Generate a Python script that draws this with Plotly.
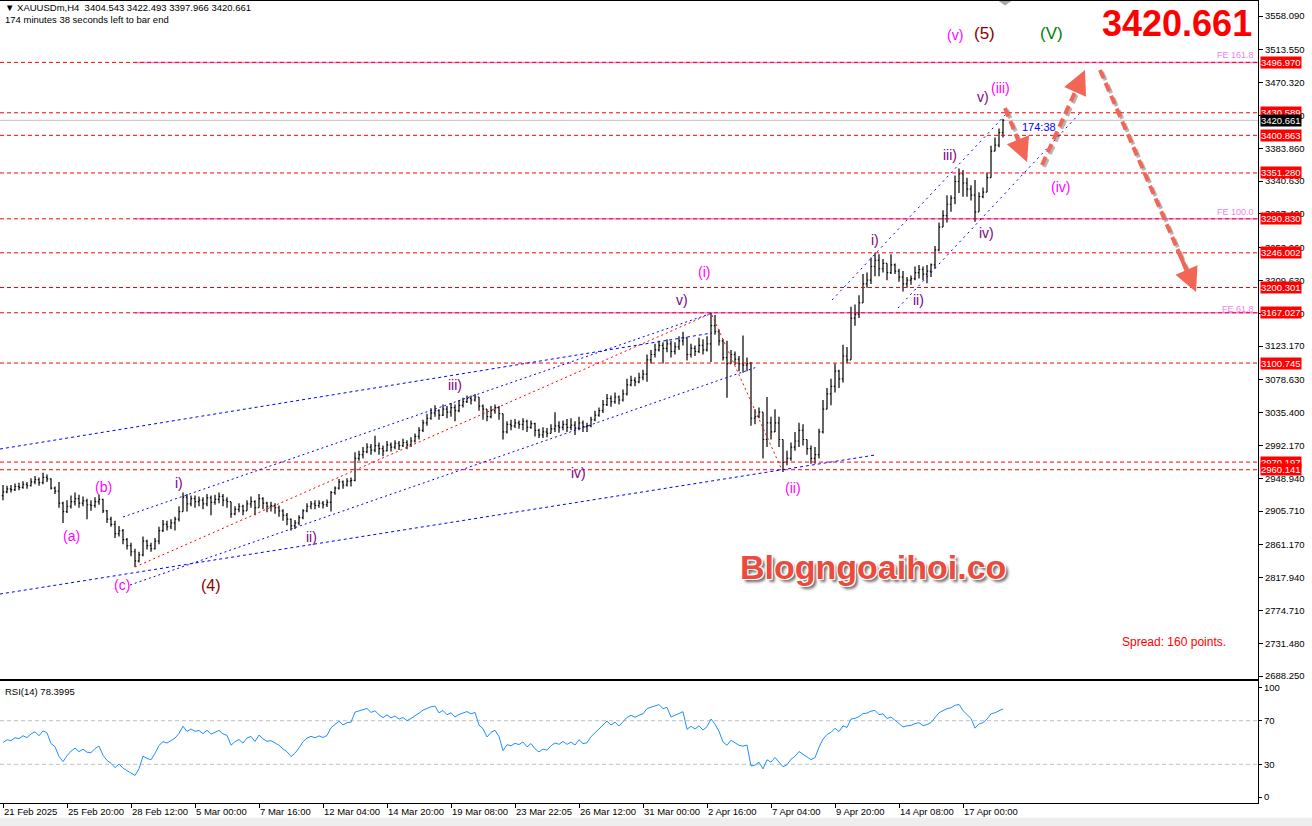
import plotly.graph_objects as go

# ---------------- data (H4 bars) ----------------
closes = [
    2931, 2935, 2934, 2938, 2937, 2941, 2939, 2944, 2947, 2943, 2950, 2948, 2936, 2932, 2916, 2905,
    2912, 2918, 2922, 2916, 2919, 2914, 2913, 2918, 2921,
    2906, 2895, 2888, 2876, 2880, 2868, 2860, 2852, 2840, 2848,
    2866, 2860, 2856, 2866, 2880, 2888, 2885, 2890, 2895, 2905, 2924, 2915, 2922,
    2918, 2920, 2915, 2923, 2917, 2921, 2925, 2920, 2918,
    2902, 2908, 2912, 2906, 2915, 2918, 2910, 2922, 2916, 2912,
    2913, 2910, 2906, 2900, 2895, 2886, 2890, 2897, 2906, 2912, 2915,
    2913, 2916, 2914, 2917, 2930, 2936, 2944, 2940, 2945, 2946, 2975,
    2980, 2984, 2990, 2986, 2992, 2988, 2985, 2993,
    2990, 2995, 2992, 2996, 2993, 2998, 3004, 3012, 3022, 3028,
    3035, 3038, 3032, 3040, 3036, 3042, 3038, 3045, 3050, 3054, 3052, 3056,
    3044, 3040, 3030, 3038, 3042, 3034, 3010, 3020, 3018, 3022, 3020, 3024, 3016, 3021,
    3012, 3006, 3010, 3008, 3014, 3018, 3016, 3020, 3016, 3019, 3015, 3022, 3017,
    3018, 3026, 3032, 3038, 3046, 3054, 3050, 3056, 3052,
    3060, 3072, 3078, 3076, 3082, 3086, 3105, 3112,
    3118, 3124, 3120, 3126, 3116, 3122, 3130, 3134,
    3112, 3120, 3116, 3124, 3118, 3126, 3150, 3142, 3130, 3108, 3100, 3112, 3106, 3100, 3098, 3100,
    3028, 3030, 3036, 3000, 3022, 3010, 3022, 3000, 2970, 2975, 2990, 2998, 3012, 3000, 2988, 2975, 2980,
    3010, 3040, 3060, 3070, 3090, 3080, 3110, 3105, 3160, 3165, 3180, 3205, 3210,
    3228, 3236, 3225, 3232, 3220, 3230, 3222, 3214, 3205, 3210, 3212, 3220, 3224, 3218, 3222, 3230,
    3250, 3280, 3295, 3310, 3318, 3340, 3350, 3338, 3330, 3322, 3300, 3320, 3326, 3345, 3380, 3388, 3404.543, 3420.661,
]
highs = [
    2940, 2939, 2940, 2942, 2943, 2945, 2944, 2949, 2952, 2950, 2956, 2954, 2949, 2938, 2944, 2918,
    2920, 2926, 2930, 2927, 2925, 2922, 2920, 2924, 2927,
    2922, 2907, 2898, 2893, 2886, 2882, 2870, 2864, 2856, 2852,
    2872, 2868, 2864, 2870, 2885, 2894, 2893, 2895, 2898, 2912, 2930, 2928, 2926,
    2926, 2925, 2924, 2928, 2926, 2927, 2930, 2928, 2924,
    2918, 2912, 2916, 2914, 2920, 2925, 2920, 2928, 2924, 2918,
    2918, 2916, 2913, 2908, 2903, 2896, 2894, 2900, 2908, 2916, 2919,
    2920, 2920, 2919, 2921, 2932, 2938, 2948, 2946, 2949, 2950, 2983,
    2985, 2990, 2995, 2994, 3005, 2996, 2992, 2998,
    2996, 2999, 2998, 3001, 2999, 3003, 3008, 3016, 3026, 3034,
    3041, 3045, 3040, 3046, 3044, 3048, 3046, 3052, 3055, 3058, 3058, 3060,
    3054, 3046, 3040, 3044, 3046, 3044, 3030, 3024, 3026, 3027, 3025, 3028, 3026, 3025,
    3022, 3014, 3016, 3015, 3020, 3036, 3024, 3025, 3027, 3028, 3024, 3030, 3025,
    3022, 3030, 3038, 3042, 3052, 3060, 3058, 3062, 3058,
    3066, 3080, 3084, 3082, 3088, 3092, 3112, 3118,
    3126, 3130, 3128, 3132, 3130, 3128, 3136, 3142,
    3128, 3126, 3124, 3134, 3132, 3136, 3167, 3164, 3145, 3132, 3130, 3118, 3116, 3110, 3137, 3108,
    3102, 3040, 3042, 3036, 3056, 3030, 3040, 3030, 3000, 2985, 2996, 3010, 3022, 3020, 3000, 2992, 2990,
    3014, 3052, 3068, 3080, 3100, 3092, 3125, 3122, 3175, 3178, 3190, 3218, 3220,
    3240, 3246, 3244, 3238, 3230, 3244, 3232, 3225, 3222, 3214, 3216, 3228, 3230, 3228, 3230, 3232,
    3255, 3286, 3302, 3322, 3322, 3348, 3357, 3355, 3345, 3335, 3342, 3326, 3332, 3352, 3387, 3398, 3410, 3422.493,
]
lows = [
    2920, 2929, 2930, 2932, 2933, 2935, 2935, 2938, 2941, 2939, 2941, 2944, 2934, 2928, 2910, 2890,
    2903, 2909, 2913, 2910, 2912, 2895, 2906, 2910, 2914,
    2903, 2890, 2885, 2870, 2872, 2862, 2855, 2846, 2832, 2838,
    2846, 2855, 2852, 2855, 2862, 2878, 2880, 2882, 2880, 2892, 2905, 2905, 2912,
    2910, 2912, 2908, 2912, 2900, 2914, 2916, 2912, 2910,
    2897, 2900, 2904, 2900, 2906, 2910, 2900, 2910, 2908, 2904,
    2905, 2902, 2898, 2893, 2887, 2880, 2882, 2887, 2895, 2904, 2908,
    2908, 2910, 2909, 2911, 2905, 2927, 2934, 2935, 2938, 2938, 2945,
    2972, 2975, 2982, 2980, 2983, 2980, 2978, 2984,
    2984, 2987, 2986, 2990, 2987, 2990, 2996, 3000, 3010, 3018,
    3026, 3030, 3026, 3031, 3028, 3030, 3024, 3036, 3042, 3048, 3046, 3050,
    3038, 3026, 3024, 3028, 3034, 3026, 3000, 3008, 3012, 3015, 3014, 3012, 3010, 3014,
    3004, 3002, 3002, 3003, 3008, 3010, 3009, 3012, 3010, 3012, 3006, 3012, 3010,
    3010, 3016, 3024, 3030, 3035, 3044, 3043, 3047, 3046,
    3050, 3058, 3070, 3070, 3074, 3078, 3076, 3100,
    3108, 3116, 3100, 3115, 3108, 3112, 3118, 3124,
    3104, 3108, 3110, 3114, 3112, 3116, 3102, 3138, 3124, 3104, 3055, 3100, 3098, 3090, 3088, 3090,
    3018, 3020, 3028, 2975, 2990, 3000, 3015, 2990, 2957, 2966, 2972, 2985, 2990, 2992, 2980, 2968, 2968,
    2975, 3008, 3040, 3045, 3062, 3068, 3075, 3100, 3115, 3150, 3160, 3180, 3200,
    3205, 3215, 3215, 3220, 3210, 3218, 3218, 3208, 3195, 3200, 3204, 3210, 3212, 3210, 3206, 3214,
    3225, 3248, 3282, 3286, 3300, 3310, 3325, 3320, 3320, 3315, 3287, 3300, 3318, 3328, 3350, 3380, 3385, 3397.966,
]
first_open = 2926

tick_idx = [0, 16, 32, 48, 64, 80, 96, 112, 128, 144, 160, 176, 192, 208, 224, 240]
tick_labels = ["21 Feb 2025", "25 Feb 20:00", "28 Feb 12:00", "5 Mar 00:00", "7 Mar 16:00",
               "12 Mar 04:00", "14 Mar 20:00", "19 Mar 08:00", "23 Mar 22:05", "26 Mar 12:00",
               "31 Mar 00:00", "2 Apr 16:00", "7 Apr 04:00", "9 Apr 20:00", "14 Apr 08:00",
               "17 Apr 00:00"]

price_ticks = [3558.090, 3513.550, 3470.320, 3427.090, 3383.860, 3340.630, 3297.400, 3253.060,
               3209.630, 3166.400, 3123.170, 3078.630, 3035.400, 2992.170, 2948.940, 2905.710,
               2861.170, 2817.940, 2774.710, 2731.480, 2688.250]

levels = [3496.970, 3430.589, 3400.863, 3351.280, 3290.830, 3246.002, 3200.301, 3167.027,
          3100.745, 2970.197, 2960.141]
bid = 3420.661
fe_levels = [3496.970, 3290.830, 3167.027]
fe_names = ["FE 161.8", "FE 100.0", "FE 61.8"]

# wave labels: (text, bar index, price, color, size)
MAG, PUR, MAR, GRN = "#FF00FF", "#800080", "#8B0000", "#008000"
wave_labels = [
    ("(a)", 17, 2872.7, MAG, 14), ("(b)", 25, 2937.3, MAG, 14), ("(c)", 29.75, 2808.2, MAG, 14),
    ("(4)", 52, 2808.2, MAR, 16), ("i)", 44, 2942.6, PUR, 14), ("ii)", 77, 2871.4, PUR, 14),
    ("iii)", 113, 3071.7, PUR, 14), ("iv)", 143.75, 2955.8, PUR, 14), ("v)", 169.75, 3183.8, PUR, 14),
    ("(i)", 175.25, 3220.7, MAG, 14), ("(ii)", 197.5, 2936.0, MAG, 14), ("i)", 218, 3262.8, PUR, 14),
    ("ii)", 228.75, 3183.8, PUR, 14), ("iii)", 236.75, 3374.9, PUR, 14), ("iv)", 245.75, 3272.1, PUR, 14),
    ("v)", 245, 3451.3, PUR, 14), ("(iii)", 249.25, 3463.2, MAG, 14), ("(iv)", 264.25, 3332.7, MAG, 14),
    ("(v)", 238, 3533.1, MAG, 14), ("(5)", 245.25, 3535.7, MAR, 17), ("(V)", 262, 3535.7, GRN, 17),
]

# trend lines: (x0, y0, x1, y1, color, dash)
BLUE, RED = "#0000FF", "#FF0000"
trend_lines = [
    (-0.75, 2796.3, 218, 2979.5, BLUE, "3px,3px"),
    (-0.75, 2987.4, 177.25, 3140.3, BLUE, "3px,3px"),
    (30, 2897.8, 177.25, 3166.6, BLUE, "2px,3px"),
    (31.75, 2808.2, 188.5, 3095.5, BLUE, "2px,3px"),
    (33, 2831.9, 177.25, 3166.6, RED, "2px,3px"),
    (177.25, 3164.0, 194.75, 2959.7, RED, "2px,3px"),
    (207.25, 3183.8, 251, 3430.2, BLUE, "2px,4px"),
    (223.75, 3173.3, 269.25, 3430.2, BLUE, "2px,4px"),
]
# forecast arrows (start idx, start price, end idx, end price)
arrows = [
    (250.5, 3436.8, 256, 3365.7),
    (259.75, 3361.7, 270.5, 3486.9),
    (274.25, 3486.9, 298.25, 3194.3),
]

# ---------------- build ----------------
n = len(closes)
x = list(range(n))
opens = [first_open] + closes[:-1]
highs = [max(h, o, c) for h, o, c in zip(highs, opens, closes)]
lows = [min(l, o, c) for l, o, c in zip(lows, opens, closes)]


def rsi(c, period=14, seed=3.0):
    ag = al = seed
    out = [50.0]
    for i in range(1, len(c)):
        d = c[i] - c[i - 1]
        ag = (ag * (period - 1) + max(d, 0)) / period
        al = (al * (period - 1) + max(-d, 0)) / period
        out.append(100 - 100 / (1 + ag / al))
    return out


rsi_vals = rsi(closes)

FONT = "Liberation Sans, Arial, sans-serif"
XR = [-0.75, 313.75]
YR = [2684.3, 3577.9]
TF = 9.5

fig = go.Figure()
fig.add_trace(go.Ohlc(x=x, open=opens, high=highs, low=lows, close=closes,
                      increasing=dict(line=dict(color="black", width=1.2)),
                      decreasing=dict(line=dict(color="black", width=1.2)),
                      tickwidth=0.3, xaxis="x", yaxis="y", showlegend=False,
                      hoverinfo="skip"))
fig.add_trace(go.Scatter(x=x, y=rsi_vals, mode="lines", line=dict(color="#1E90FF", width=1),
                         xaxis="x2", yaxis="y2", showlegend=False, hoverinfo="skip"))

shapes = []
for lv in fe_levels:
    shapes.append(dict(type="line", xref="x", yref="y", x0=33, x1=XR[1], y0=lv, y1=lv,
                       line=dict(color="#EE82EE", width=1.5), layer="below"))
shapes.append(dict(type="line", xref="paper", yref="y", x0=0, x1=1, y0=bid, y1=bid,
                   line=dict(color="#C0C0C0", width=1), layer="below"))
for lv in levels:
    shapes.append(dict(type="line", xref="paper", yref="y", x0=0, x1=1, y0=lv, y1=lv,
                       line=dict(color=RED, width=1, dash="4px,3px")))
for x0, y0, x1, y1, col, dash in trend_lines:
    shapes.append(dict(type="line", xref="x", yref="y", x0=x0, y0=y0, x1=x1, y1=y1,
                       line=dict(color=col, width=1, dash=dash)))
for lv in (70, 30):
    shapes.append(dict(type="line", xref="paper", yref="y2", x0=0, x1=1, y0=lv, y1=lv,
                       line=dict(color="#C0C0C0", width=1, dash="4px,3px"), layer="below"))
CORAL = "#F26655"
for x0, y0, x1, y1 in arrows:
    shapes.append(dict(type="line", xref="x", yref="y", x0=x0 + 0.5, y0=y0 - 2.6,
                       x1=x0 + (x1 - x0) * 0.9 + 0.5, y1=y0 + (y1 - y0) * 0.9 - 2.6,
                       line=dict(color="rgba(90,90,90,0.45)", width=4, dash="9px,5px")))
    shapes.append(dict(type="line", xref="x", yref="y", x0=x0, y0=y0,
                       x1=x0 + (x1 - x0) * 0.9, y1=y0 + (y1 - y0) * 0.9,
                       line=dict(color=CORAL, width=4, dash="9px,5px")))
shapes.append(dict(type="path", xref="x", yref="y",
                   path="M 248.9,3577.9 L 252.1,3577.9 L 250.5,3571.9 Z",
                   fillcolor="#A8A8A8", line=dict(width=0)))
shapes.append(dict(type="rect", xref="paper", yref="paper", x0=-0.01, x1=1.05,
                   y0=-0.0300, y1=-0.0185, fillcolor="#EEEEEE", line=dict(width=0),
                   layer="below"))

ann = []
ann.append(dict(xref="paper", yref="paper", x=0, y=1, xanchor="left", yanchor="top", xshift=3,
                yshift=1, align="left", showarrow=False,
                text="▼ XAUUSDm,H4  3404.543 3422.493 3397.966 3420.661<br>174 minutes 38 seconds left to bar end",
                font=dict(family=FONT, size=9.5, color="black")))
ann.append(dict(xref="paper", yref="y2", x=0, y=103.5, xanchor="left", yanchor="top", xshift=3,
                showarrow=False, text="RSI(14) 78.3995",
                font=dict(family=FONT, size=9.5, color="black")))
for lv in levels:
    ann.append(dict(xref="paper", yref="y", x=1, y=lv, xanchor="left", yanchor="middle", xshift=2,
                    showarrow=False, text=f"{lv:.3f}", bgcolor="#FF0000", borderpad=0,
                    font=dict(family=FONT, size=TF, color="white")))
ann.append(dict(xref="paper", yref="y", x=1, y=bid, xanchor="left", yanchor="middle", xshift=2,
                showarrow=False, text=f"{bid:.3f}", bgcolor="black", borderpad=0,
                font=dict(family=FONT, size=TF, color="white")))
fe_offsets = [9.7, 9.0, 4.9]
for lv, nm, off in zip(fe_levels, fe_names, fe_offsets):
    ann.append(dict(xref="paper", yref="y", x=1, y=lv + off, xanchor="right", yanchor="middle",
                    xshift=-2, showarrow=False, text=nm,
                    font=dict(family=FONT, size=9, color="#EE82EE")))
for t, xi, yp, col, sz in wave_labels:
    ann.append(dict(xref="x", yref="y", x=xi, y=yp, showarrow=False, text=t,
                    font=dict(family=FONT, size=sz, color=col)))
ann.append(dict(xref="x", yref="y", x=254.25, y=3411.8, xanchor="left", showarrow=False,
                text="174:38", font=dict(family=FONT, size=11, color="#0000FF")))
ann.append(dict(xref="paper", yref="y", x=1, y=3548.5, xanchor="right", yanchor="middle",
                xshift=-4, showarrow=False, text="<b>3420.661</b>",
                font=dict(family=FONT, size=36, color="#FF0000")))
ann.append(dict(xref="x", yref="y", x=306.25, y=2733, xanchor="right", showarrow=False,
                text="Spread: 160 points.", font=dict(family=FONT, size=12, color="#FF0000")))
ann.append(dict(xref="x", yref="y", x=217.5, y=2831.9, showarrow=False,
                text="<b>Blogngoaihoi.co</b>",
                font=dict(family=FONT, size=34, color="#EC4A3C",
                          shadow="1px 1px 0 white, -1px -1px 0 white, 1px -1px 0 white, -1px 1px 0 white, 3px 3px 3px #666")))
for x0, y0, x1, y1 in arrows:
    ann.append(dict(xref="x", yref="y", axref="x", ayref="y", x=x1, y=y1,
                    ax=x0 + (x1 - x0) * 0.8, ay=y0 + (y1 - y0) * 0.8,
                    showarrow=True, arrowhead=2, arrowsize=1.2, arrowwidth=4,
                    arrowcolor=CORAL, text=""))

fig.update_layout(
    width=1312, height=826,
    margin=dict(l=0, r=54, t=1, b=23, autoexpand=False),
    paper_bgcolor="white", plot_bgcolor="white",
    font=dict(family=FONT, size=10, color="black"),
    showlegend=False,
    shapes=shapes, annotations=ann,
    xaxis=dict(domain=[0, 1], range=XR, anchor="y", showticklabels=False, showgrid=False,
               zeroline=False, showline=True, mirror=True, linecolor="black", linewidth=1,
               rangeslider=dict(visible=False), fixedrange=True, automargin=False),
    yaxis=dict(domain=[0.1546, 1], range=YR, side="right", anchor="x", showgrid=False,
               zeroline=False, showline=True, mirror=True, linecolor="black", linewidth=1,
               tickvals=price_ticks, ticktext=[f"{v:.3f}" for v in price_ticks],
               ticks="outside", ticklen=4, tickcolor="black", automargin=False,
               tickfont=dict(family=FONT, size=TF, color="black")),
    xaxis2=dict(domain=[0, 1], range=XR, anchor="y2", showgrid=False, zeroline=False,
                showline=True, mirror=True, linecolor="black", linewidth=1,
                tickvals=tick_idx, ticktext=tick_labels, ticks="outside", ticklen=4,
                tickcolor="black", ticklabelposition="outside right", tickangle=0,
                automargin=False, tickfont=dict(family=FONT, size=TF, color="black")),
    yaxis2=dict(domain=[0, 0.1521], range=[-5.5, 106.4], side="right", anchor="x2",
                showgrid=False, zeroline=False, showline=True, mirror=True, linecolor="black",
                linewidth=1, tickvals=[0, 30, 70, 100], ticks="outside", ticklen=3,
                tickcolor="black", automargin=False,
                tickfont=dict(family=FONT, size=TF, color="black")),
)

fig.write_html("out.html", config={"displayModeBar": False},
               post_script="document.body.style.margin='0';document.body.style.overflow='hidden';")
